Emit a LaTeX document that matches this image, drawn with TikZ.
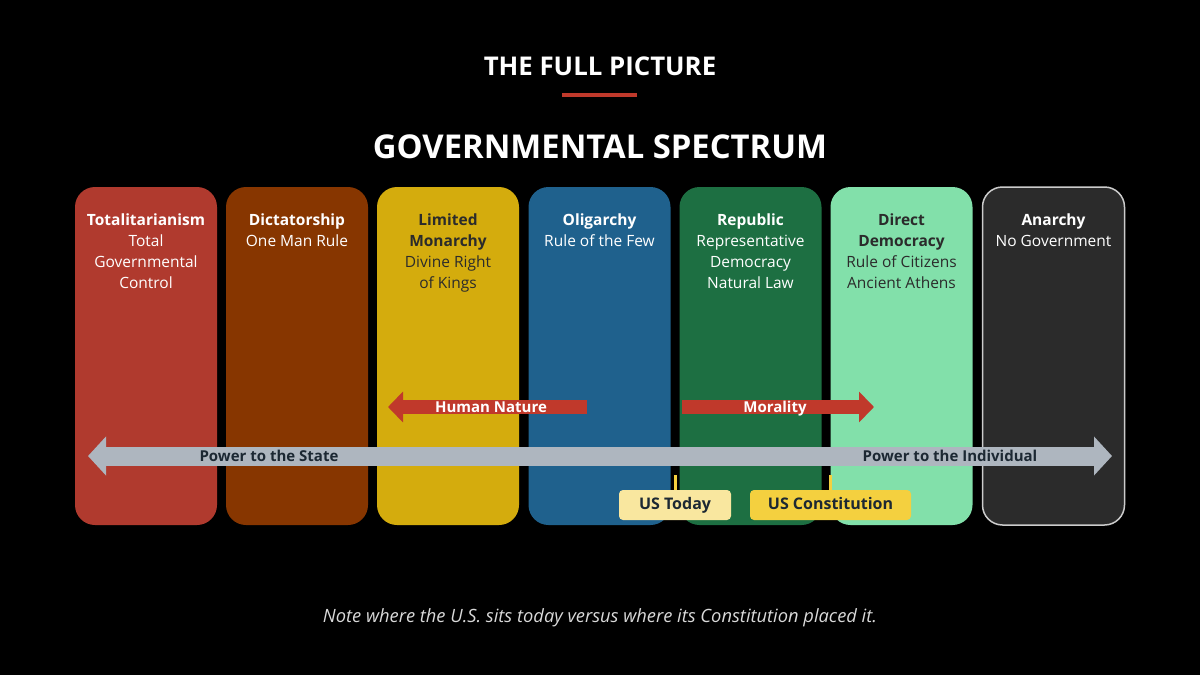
\documentclass[tikz,border=0pt]{standalone}
\usepackage{fontspec}
\setmainfont{Open Sans}
\usetikzlibrary{positioning,arrows.meta}

\definecolor{bgblack}{HTML}{000000}
\definecolor{colred}{HTML}{B03A2E}
\definecolor{colbrown}{HTML}{873600}
\definecolor{colgold}{HTML}{D4AC0D}
\definecolor{colblue}{HTML}{1F618D}
\definecolor{colgreen}{HTML}{1D6F42}
\definecolor{colmint}{HTML}{82E0AA}
\definecolor{colgrey}{HTML}{2B2B2B}
\definecolor{accent}{HTML}{C0392B}
\definecolor{steel}{HTML}{AEB6BF}
\definecolor{inkdark}{HTML}{1C2833}
\definecolor{paleyellow}{HTML}{F9E79F}
\definecolor{sunyellow}{HTML}{F4D03F}

\begin{document}
\begin{tikzpicture}[
    x=1pt, y=-1pt,
    col/.style={
        rounded corners=20pt,
        minimum width=142pt,
        minimum height=338pt,
        inner sep=0pt
    },
    coltext/.style={
        anchor=north,
        inner sep=0pt,
        align=center,
        text=white,
        font=\fontsize{15.5}{21}\selectfont
    },
    force/.style={-{Triangle[length=15pt,width=30pt]}, line width=14pt, draw=accent},
    forcelbl/.style={text=white, font=\fontsize{15}{18}\selectfont\bfseries, inner sep=0pt,
        text height=11pt, text depth=3pt},
    spectrum/.style={{Triangle[length=18pt,width=38pt]}-{Triangle[length=18pt,width=38pt]}, line width=19pt, draw=steel},
    speclbl/.style={text=inkdark, font=\fontsize{15}{18}\selectfont\bfseries, inner sep=0pt,
        text height=11pt, text depth=3pt},
    usbox/.style={rounded corners=4pt, minimum height=30pt, inner sep=0pt, text=inkdark,
        text height=12pt, text depth=3pt, font=\fontsize{16}{19}\selectfont\bfseries},
    pin/.style={draw=sunyellow, line width=3pt}
]

% --- Background / page size ---
\fill[bgblack] (0,0) rectangle (1200,675);

% --- Titles ---
\node[text=white, font=\fontsize{25.8}{30}\selectfont\bfseries] (kicker) at (600,66) {THE FULL PICTURE};
\draw[accent, line width=4pt] (562,95) -- (637,95);
\node[text=white, font=\fontsize{32.8}{38}\selectfont\bfseries] (title) at (600,147) {GOVERNMENTAL SPECTRUM};

% --- Column x-positions ---
\def\xA{146}
\def\xB{297}
\def\xC{448}
\def\xD{599.5}
\def\xE{750.5}
\def\xF{901.5}
\def\xG{1053.5}
\def\ymid{356}

% --- Columns ---
\node[col, fill=colred]   (totl) at (\xA,\ymid) {};
\node[col, fill=colbrown] (dict) at (\xB,\ymid) {};
\node[col, fill=colgold]  (mona) at (\xC,\ymid) {};
\node[col, fill=colblue]  (olig) at (\xD,\ymid) {};
\node[col, fill=colgreen] (repu) at (\xE,\ymid) {};
\node[col, fill=colmint]  (demo) at (\xF,\ymid) {};
\node[col, fill=colgrey, draw=white!80!black, line width=1.5pt] (anar) at (\xG,\ymid) {};

% --- Column texts ---
\node[coltext, below=27pt of totl.north] (totltxt) {\textbf{Totalitarianism}\\Total\\Governmental\\Control};
\node[coltext, below=27pt of dict.north] (dicttxt) {\textbf{Dictatorship}\\One Man Rule};
\node[coltext, below=27pt of mona.north, text=colgrey] (monatxt) {\textbf{Limited}\\\textbf{Monarchy}\\Divine Right\\of Kings};
\node[coltext, below=27pt of olig.north] (oligtxt) {\textbf{Oligarchy}\\Rule of the Few};
\node[coltext, below=27pt of repu.north] (reputxt) {\textbf{Republic}\\Representative\\Democracy\\Natural Law};
\node[coltext, below=27pt of demo.north, text=colgrey] (demotxt) {\textbf{Direct}\\\textbf{Democracy}\\Rule of Citizens\\Ancient Athens};
\node[coltext, below=27pt of anar.north] (anartxt) {\textbf{Anarchy}\\No Government};

% --- Forces ---
\coordinate (hntail) at (587,407);
\coordinate (hntip)  at (388,407);
\draw[force] (hntail) -- (hntip);
\node[forcelbl] (hnlbl) at (491,408.5) {Human Nature};

\coordinate (mortail) at (682,407);
\coordinate (mortip)  at (874,407);
\draw[force] (mortail) -- (mortip);
\node[forcelbl] (morlbl) at (775,408.5) {Morality};

% --- Spectrum arrow ---
\coordinate (stateend) at (88,456);
\coordinate (indivend) at (1112,456);
\draw[spectrum] (stateend) -- (indivend);
\node[speclbl] (statelbl) at (269,457.5) {Power to the State};
\node[speclbl] (indivlbl) at (950,457.5) {Power to the Individual};

% --- US markers ---
\node[usbox, fill=paleyellow, minimum width=112pt] (today) at (675,505) {US Today};
\node[usbox, fill=sunyellow, minimum width=161pt]  (const) at (830.5,505) {US Constitution};
\coordinate (todaypin) at (675,475);
\coordinate (constpin) at (830.5,475);
\draw[pin] (todaypin) -- (today.north);
\draw[pin] (constpin) -- (const.north);

% --- Footnote ---
\node[text=white!85!black, font=\fontsize{18.3}{22}\selectfont\itshape] (note) at (600,618)
    {Note where the U.S. sits today versus where its Constitution placed it.};

\end{tikzpicture}
\end{document}
